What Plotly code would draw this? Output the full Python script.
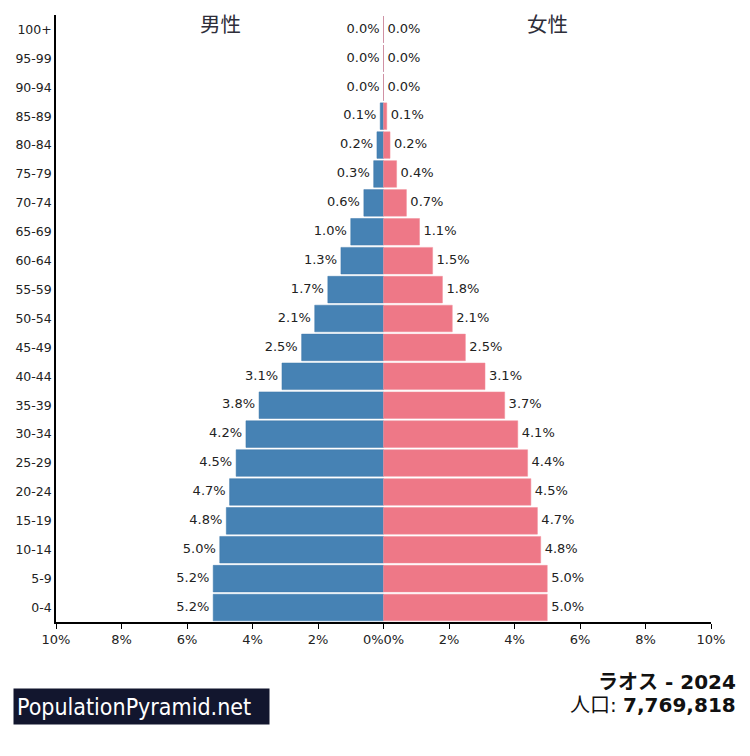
import plotly.graph_objects as go

ages = ["100+", "95-99", "90-94", "85-89", "80-84", "75-79", "70-74", "65-69",
        "60-64", "55-59", "50-54", "45-49", "40-44", "35-39", "30-34", "25-29",
        "20-24", "15-19", "10-14", "5-9", "0-4"]
male = [0.0, 0.0, 0.0, 0.1, 0.2, 0.3, 0.6, 1.0, 1.3, 1.7, 2.1, 2.5, 3.1, 3.8,
        4.2, 4.5, 4.7, 4.8, 5.0, 5.2, 5.2]
female = [0.0, 0.0, 0.0, 0.1, 0.2, 0.4, 0.7, 1.1, 1.5, 1.8, 2.1, 2.5, 3.1, 3.7,
          4.1, 4.4, 4.5, 4.7, 4.8, 5.0, 5.0]
tick_vals = [-10, -8, -6, -4, -2, 0, 2, 4, 6, 8, 10]
tick_text = ["10%", "8%", "6%", "4%", "2%", "0%0%", "2%", "4%", "6%", "8%", "10%"]

BLUE = "#4682b4"
PINK = "#ee7887"
TXT = "#222222"
FONT = "DejaVu Sans"

fig = go.Figure()
fig.add_trace(go.Bar(y=ages, x=[-v for v in male], orientation="h",
                     marker=dict(color=BLUE, line=dict(color="#3f79ab", width=0.5)),
                     hoverinfo="skip", showlegend=False))
fig.add_trace(go.Bar(y=ages, x=female, orientation="h",
                     marker=dict(color=PINK, line=dict(color="#f08e9b", width=0.5)),
                     hoverinfo="skip", showlegend=False))
fig.add_trace(go.Scatter(y=ages, x=[-v - 0.12 for v in male], mode="text",
                         text=[f"{v:.1f}%" for v in male], textposition="middle left",
                         textfont=dict(family=FONT, size=13, color=TXT),
                         hoverinfo="skip", showlegend=False, cliponaxis=False))
fig.add_trace(go.Scatter(y=ages, x=[v + 0.12 for v in female], mode="text",
                         text=[f"{v:.1f}%" for v in female], textposition="middle right",
                         textfont=dict(family=FONT, size=13, color=TXT),
                         hoverinfo="skip", showlegend=False, cliponaxis=False))

fig.update_layout(
    width=750, height=756,
    margin=dict(l=56, r=39, t=15, b=134),
    paper_bgcolor="white", plot_bgcolor="white",
    barmode="overlay", bargap=0.08,
    font=dict(family=FONT, color=TXT),
    xaxis=dict(range=[-10, 10], tickvals=tick_vals, ticktext=tick_text,
               showgrid=False, zeroline=False, showline=True, linecolor="black",
               linewidth=1.5, ticks="outside", ticklen=5, tickcolor="black",
               tickfont=dict(family=FONT, size=13, color=TXT), fixedrange=True),
    yaxis=dict(type="category", categoryorder="array", categoryarray=ages,
               range=[20.5, -0.5], showgrid=False, zeroline=False, showline=True,
               linecolor="black", linewidth=1.5, ticks="", ticklabelstandoff=0,
               tickfont=dict(family=FONT, size=12.5, color=TXT), fixedrange=True),
)

fig.add_annotation(text="男性", xref="paper", yref="paper", x=0.2504, y=0.987,
                   xanchor="center", yanchor="middle", showarrow=False,
                   font=dict(family="Noto Sans CJK JP", size=20.5, color="#2e2e3a"))
fig.add_annotation(text="女性", xref="paper", yref="paper", x=0.751, y=0.987,
                   xanchor="center", yanchor="middle", showarrow=False,
                   font=dict(family="Noto Sans CJK JP", size=20.5, color="#2e2e3a"))

fig.add_annotation(text="PopulationPyramid.net", xref="paper", yref="paper",
                   x=-0.0656, y=-0.1392, xanchor="left", yanchor="middle",
                   showarrow=False, bgcolor="#12162e", borderpad=3,
                   width=249, height=29, align="left",
                   font=dict(family="DejaVu Sans Condensed", size=23, color="white"))
fig.add_annotation(text="<b>ラオス - 2024</b>", xref="paper", yref="paper",
                   x=1.0412, y=-0.0988, xanchor="right", yanchor="middle",
                   showarrow=False,
                   font=dict(family="DejaVu Sans, Noto Sans CJK JP", size=20, color="#111111"))
fig.add_annotation(text="人口: <b>7,769,818</b>", xref="paper", yref="paper",
                   x=1.0412, y=-0.1367, xanchor="right", yanchor="middle",
                   showarrow=False,
                   font=dict(family="DejaVu Sans, Noto Sans CJK JP", size=20, color="#111111"))

fig.write_html("out.html")
